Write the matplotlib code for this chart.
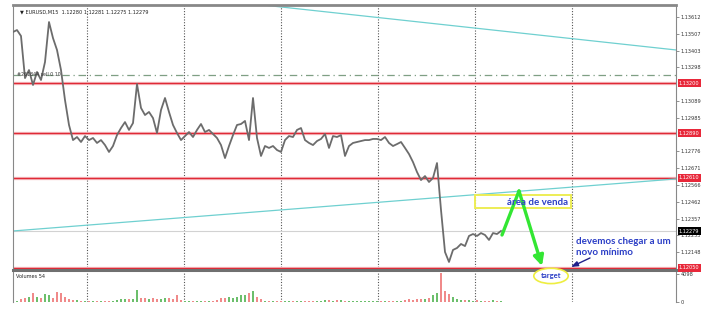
import matplotlib.pyplot as plt
from matplotlib.patches import Rectangle

# EURUSD M15 closes, one value every 4 bars
closes = [
    1.13519, 1.13531, 1.13494, 1.13232, 1.13282, 1.13189, 1.13270, 1.13220, 1.13332, 1.13581,
    1.13481, 1.13407, 1.13282, 1.13095, 1.12940, 1.12846, 1.12865, 1.12834, 1.12871, 1.12846,
    1.12859, 1.12828, 1.12846, 1.12815, 1.12772, 1.12809, 1.12877, 1.12921, 1.12958, 1.12909,
    1.12952, 1.13195, 1.13046, 1.13002, 1.13021, 1.12983, 1.12890, 1.13033, 1.13108, 1.13021,
    1.12940, 1.12890, 1.12846, 1.12871, 1.12896, 1.12865, 1.12909, 1.12946, 1.12896, 1.12909,
    1.12884, 1.12859, 1.12815, 1.12734, 1.12809, 1.12877, 1.12940, 1.12946, 1.12965, 1.12846,
    1.13108, 1.12859, 1.12747, 1.12809, 1.12797, 1.12809, 1.12784, 1.12772, 1.12846, 1.12871,
    1.12865, 1.12909, 1.12921, 1.12846, 1.12828, 1.12815, 1.12840, 1.12853, 1.12884, 1.12797,
    1.12871, 1.12865, 1.12877, 1.12747, 1.12809, 1.12828, 1.12834, 1.12840, 1.12846, 1.12846,
    1.12853, 1.12853, 1.12846, 1.12865, 1.12828, 1.12809, 1.12821, 1.12834, 1.12797, 1.12759,
    1.12709, 1.12647, 1.12597, 1.12622, 1.12585, 1.12610, 1.12703, 1.12411, 1.12149, 1.12087,
    1.12162, 1.12174, 1.12199, 1.12186, 1.12249, 1.12261, 1.12249, 1.12267, 1.12255, 1.12224,
    1.12267, 1.12261, 1.12280,
]
volumes = [
    150, 150, 500, 650, 800, 1300, 800, 650, 1150, 1000,
    650, 1500, 1300, 800, 500, 330, 330, 150, 100, 200,
    120, 100, 150, 100, 200, 150, 300, 450, 500, 400,
    500, 1800, 600, 550, 500, 600, 450, 500, 650, 550,
    500, 1000, 300, 150, 120, 200, 100, 150, 180, 120,
    200, 250, 600, 650, 800, 650, 800, 1000, 1100, 1300,
    1600, 800, 450, 150, 120, 100, 150, 100, 120, 150,
    100, 120, 100, 150, 100, 120, 150, 200, 300, 250,
    200, 300, 250, 200, 150, 100, 120, 150, 100, 200,
    120, 100, 150, 120, 100, 150, 120, 150, 300, 400,
    350, 450, 400, 500, 600, 1000, 1300, 4200, 1600, 1150,
    800, 500, 350, 300, 250, 200, 250, 200, 150, 200,
    250, 150, 200,
]
# scale labels that are not hidden behind the level tags
tick_prices = [1.13612, 1.13507, 1.13403, 1.13298, 1.13089, 1.12985,
               1.12776, 1.12671, 1.12566, 1.12462, 1.12357, 1.12253, 1.12148]
red_levels = [1.13200, 1.12890, 1.12610, 1.12050]
order_level = 1.13251
last_price = 1.12279
upper_trend = [(62.5, 1.13687), (165.75, 1.13407)]
lower_trend = [(0.0, 1.12280), (165.75, 1.12604)]
arrow_path = [(122.25, 1.12255), (126.5, 1.12529), (132.25, 1.12062)]
sell_zone = (115.5, 139.5, 1.12423, 1.12504)

W, H = 702, 311
fig = plt.figure(figsize=(W / 100, H / 100), dpi=100)
axv = fig.add_axes([13 / W, 1 - 302 / H, 663 / W, 30 / H])
ax = fig.add_axes([13 / W, 1 - 270 / H, 663 / W, 265 / H])
axv.patch.set_visible(False)

xs = list(range(len(closes)))
x_max = 165.75
ax.set_xlim(0, x_max)
ax.set_ylim(1.12037, 1.13687)
axv.set_xlim(0, x_max)
axv.set_ylim(0, 4400)

# day separators
for k in range(6):
    gx = 18.5 + 24.25 * k
    ax.axvline(gx, color='#555555', ls=(0, (1, 1.5)), lw=0.8, zorder=1)
    axv.axvline(gx, color='#555555', ls=(0, (1, 1.5)), lw=0.8, zorder=1)

# levels
for lv in red_levels:
    ax.axhline(lv, color='#f6c4c8', lw=2.4, zorder=2)
    ax.axhline(lv, color='#e02a36', lw=1.0, zorder=2)
ax.axhline(order_level, color='#7f9f84', lw=0.9, ls=(0, (6, 3, 1, 3)), zorder=2)
ax.axhline(last_price, color='#d2d2d2', lw=0.8, zorder=1)

for tr in (upper_trend, lower_trend):
    ax.plot([tr[0][0], tr[1][0]], [tr[0][1], tr[1][1]], color='#6fd0d0', lw=0.9, zorder=2)

ax.plot(xs, closes, color='#6c6c6c', lw=1.3, zorder=3)

# volumes
cols = ['#6cbf6c' if i == 0 or closes[i] >= closes[i - 1] else '#f08a8a' for i in xs]
axv.bar(xs, volumes, width=0.6, color=cols, zorder=2)

# annotations
x0, x1, y0, y1 = sell_zone
ax.add_patch(Rectangle((x0, y0), x1 - x0, y1 - y0, fill=False, ec='#eded55', lw=1.4, zorder=4))
ax.plot([arrow_path[0][0], arrow_path[1][0]], [arrow_path[0][1], arrow_path[1][1]],
        color='#33e633', lw=2.4, solid_capstyle='round', zorder=5)
ax.annotate('', xy=arrow_path[2], xytext=arrow_path[1], zorder=5, annotation_clip=False,
            arrowprops=dict(arrowstyle='-|>,head_width=0.3,head_length=0.6', color='#33e633',
                            lw=2.4, shrinkA=0, shrinkB=0))
blue = '#2b3ec6'
fam = ['Lato', 'DejaVu Sans']
ax.text(123.5, 1.12460, 'área de venda', color=blue, fontsize=7, fontweight='bold',
        family=fam, ha='left', va='center', zorder=6)
ax.text(140.75, 1.12180, 'devemos chegar a um\nnovo mínimo', color=blue, fontsize=7,
        fontweight='bold', family=fam, ha='left', va='center',
        linespacing=1.25, zorder=6, clip_on=False)
ax.text(134.5, 1.12000, 'target', color=blue, fontsize=5.5, fontweight='bold',
        family=fam, ha='center', va='center', zorder=7, clip_on=False,
        bbox=dict(boxstyle='ellipse,pad=0.25', fc='white', ec='#eeee40', lw=1.2))
ax.annotate('', xy=(139.5, 1.12056), xytext=(144.25, 1.12112), annotation_clip=False,
            arrowprops=dict(arrowstyle='-|>,head_width=0.15,head_length=0.4', color='#1f1f8a',
                            lw=1.0, shrinkA=0, shrinkB=0))

# small texts
ax.text(0.01, 0.985, '\u25bc EURUSD,M15  1.12280 1.12281 1.12275 1.12279', transform=ax.transAxes,
        fontsize=3.6, color='#222222', va='top', ha='left')
ax.text(1.0, order_level + 0.00004, '#261844 sell 0.10', fontsize=3.4, color='#333333',
        va='center', ha='left')
axv.text(0.005, 0.95, 'Volumes 54', transform=axv.transAxes, fontsize=3.6, color='#222222',
         va='top', ha='left')

# right price scale
for a in (ax, axv):
    a.yaxis.tick_right()
    a.set_xticks([])
    a.tick_params(axis='y', length=2, width=0.5, color='#666666', labelsize=3.6,
                  labelcolor='#333333', pad=1.5)
    for s in a.spines.values():
        s.set_color('#888888')
        s.set_linewidth(0.8)
ax.set_yticks(tick_prices)
ax.set_yticklabels(['%.5f' % p for p in tick_prices])
ax.spines['top'].set_linewidth(2)
ax.spines['bottom'].set_color('#707070')
ax.spines['bottom'].set_linewidth(2.2)
axv.spines['top'].set_visible(False)
axv.spines['bottom'].set_visible(False)
axv.set_yticks([0, 4098])
axv.set_yticklabels(['0', '4098'])

for lv in red_levels:
    ax.annotate('%.5f' % lv, xy=(1.0, lv), xycoords=('axes fraction', 'data'), xytext=(2, 0),
                textcoords='offset points', fontsize=3.6, color='white', va='center', ha='left',
                bbox=dict(boxstyle='square,pad=0.25', fc='#e8283a', ec='none'), zorder=10)
ax.annotate('%.5f' % last_price, xy=(1.0, last_price), xycoords=('axes fraction', 'data'),
            xytext=(2, 0), textcoords='offset points', fontsize=3.6, color='white', va='center',
            ha='left', bbox=dict(boxstyle='square,pad=0.25', fc='black', ec='none'), zorder=10)

fig.savefig('out.png', dpi=100)
